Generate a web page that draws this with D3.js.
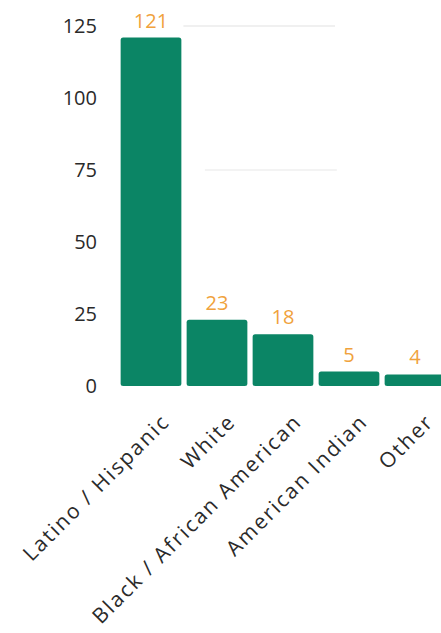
<!DOCTYPE html>
<html>
<head>
<meta charset="utf-8">
<script src="https://cdn.jsdelivr.net/npm/d3@7"></script>
<style>
  html, body { margin: 0; padding: 0; background: #ffffff; }
  svg { display: block; }
</style>
</head>
<body>
<div id="chart"></div>
<script>
// Respondents by race / ethnicity
const categories = ["Latino / Hispanic", "White", "Black / African American", "American Indian", "Other"];
const counts = [121, 23, 18, 5, 4];
const yTicks = [0, 25, 50, 75, 100, 125];

const width = 441, height = 633;
const font = "'Open Sans', 'Lato', sans-serif";
const barColor = "#0b8565";
const labelColor = "#f0a23c";

const svg = d3.select("#chart").append("svg")
  .attr("width", width)
  .attr("height", height);

const x = d3.scaleBand()
  .domain(categories)
  .range([118, 448])
  .paddingInner(0.08)
  .paddingOuter(0.04);

const y = d3.scaleLinear()
  .domain([0, 125])
  .range([386, 26]);

// faint partial gridlines
const grid = svg.append("g");
grid.append("line")
  .attr("x1", x(categories[0]) + x.bandwidth() + 2)
  .attr("x2", x(categories[3]) + x.bandwidth() * 0.27)
  .attr("y1", y(125)).attr("y2", y(125))
  .attr("stroke", "#e2e2e2").attr("stroke-width", 1.2);
grid.append("line")
  .attr("x1", x(categories[1]) + x.bandwidth() * 0.3)
  .attr("x2", x(categories[3]) + x.bandwidth() * 0.3)
  .attr("y1", y(75)).attr("y2", y(75))
  .attr("stroke", "#e8e8e8").attr("stroke-width", 1.2);

// y axis
const yAxis = svg.append("g")
  .attr("transform", "translate(99,0)")
  .call(d3.axisLeft(y).tickValues(yTicks).tickSize(0).tickPadding(2));
yAxis.select(".domain").remove();
yAxis.selectAll("text")
  .attr("font-family", font)
  .attr("font-size", 20)
  .attr("fill", "#2a2a2a");

// bars
svg.append("g").selectAll("rect")
  .data(counts)
  .join("rect")
  .attr("x", (d, i) => x(categories[i]))
  .attr("y", d => y(d))
  .attr("width", x.bandwidth())
  .attr("height", d => y(0) - y(d))
  .attr("rx", 2.5)
  .attr("fill", barColor);

// value labels
svg.append("g").selectAll("text")
  .data(counts)
  .join("text")
  .attr("x", (d, i) => x(categories[i]) + x.bandwidth() / 2)
  .attr("y", d => y(d) - 10)
  .attr("text-anchor", "middle")
  .attr("font-family", font)
  .attr("font-size", 20)
  .attr("fill", labelColor)
  .text(d => d);

// x axis labels, rotated
const xAxis = svg.append("g")
  .attr("transform", `translate(0,${y(0)})`)
  .call(d3.axisBottom(x).tickSize(0).tickPadding(0));
xAxis.select(".domain").remove();
xAxis.selectAll("text")
  .attr("font-family", font)
  .attr("font-size", 21)
  .attr("letter-spacing", "2px")
  .attr("fill", "#2a2a2a")
  .attr("text-anchor", "end")
  .attr("dy", "0")
  .attr("transform", "translate(20,37) rotate(-45)");
</script>
</body>
</html>
